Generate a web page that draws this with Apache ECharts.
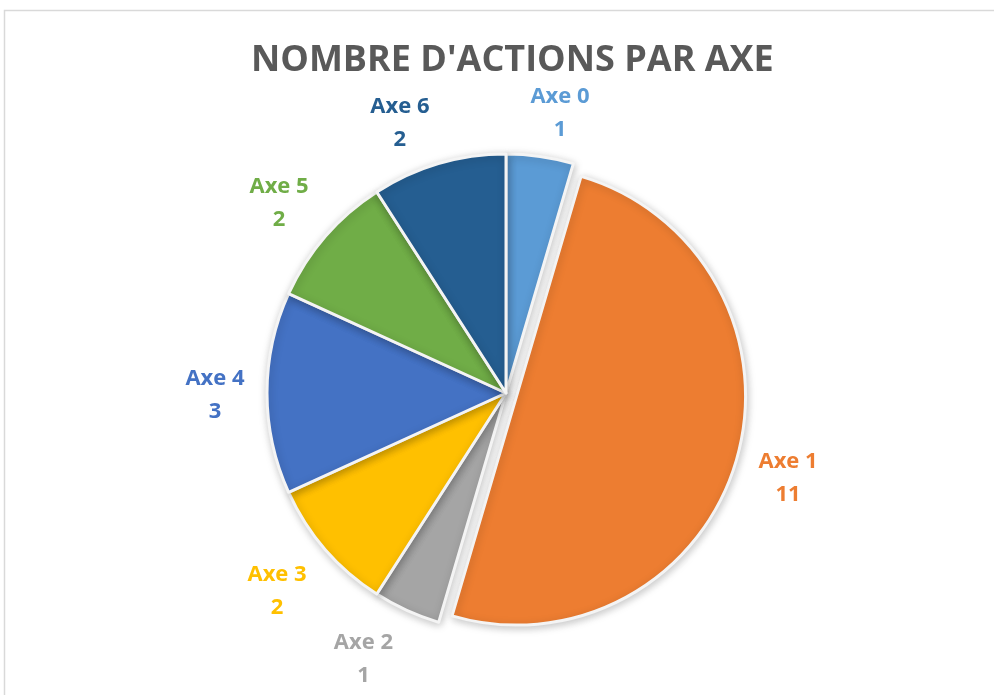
<!DOCTYPE html>
<html>
<head>
<meta charset="utf-8">
<script src="https://cdn.jsdelivr.net/npm/echarts@6/dist/echarts.min.js"></script>
<style>
    html, body { margin: 0; padding: 0; background: #fff; }
    #chart_axes { width: 994px; height: 695px; }
</style>
</head>
<body>
<div id="chart_axes"></div>
<script>
// data
var categories = ['Axe 0', 'Axe 1', 'Axe 2', 'Axe 3', 'Axe 4', 'Axe 5', 'Axe 6'];
var actionCounts = [1, 11, 1, 2, 3, 2, 2];
var sliceColors = ['#5B9BD5', '#ED7D31', '#A5A5A5', '#FFC000', '#4472C4', '#70AD47', '#255E91'];
var explodedCategory = 'Axe 1';

var chartDom = document.getElementById('chart_axes');
var chartInstance = echarts.init(chartDom);

var pieCenter = [506, 393];
var pieRadius = 239;
var explodedRadius = 229;
var explodedOffset = 11;
var labelRadius = 295;
// best-fit nudges (px) so the small slices' labels sit like Excel's
var labelNudge = [[12, 12], [-1, 2], [-20, -2], [-6, 5], [4, 2], [-4, 3], [-23, 13]];

function sliceStyle(i, visible) {
    if (!visible) {
        return { color: 'rgba(0,0,0,0)', borderWidth: 0, shadowBlur: 0, shadowColor: 'rgba(0,0,0,0)' };
    }
    return {
        color: sliceColors[i],
        borderColor: '#f4f4f4',
        borderWidth: 3,
        shadowBlur: 9,
        shadowColor: 'rgba(0,0,0,0.22)',
        shadowOffsetX: 1,
        shadowOffsetY: 2
    };
}

// center of each label, on the bisector of its slice
function labelLayout(params) {
    var total = 0, before = 0;
    for (var i = 0; i < actionCounts.length; i++) {
        total += actionCounts[i];
        if (i < params.dataIndex) before += actionCounts[i];
    }
    var mid = (before + actionCounts[params.dataIndex] / 2) / total * Math.PI * 2;
    var nudge = labelNudge[params.dataIndex];
    return {
        x: pieCenter[0] + labelRadius * Math.sin(mid) + nudge[0],
        y: pieCenter[1] - labelRadius * Math.cos(mid) + nudge[1],
        align: 'center',
        verticalAlign: 'middle'
    };
}

function getChartOption() {
    var mainData = [], explodedData = [];
    for (var i = 0; i < categories.length; i++) {
        var isExploded = categories[i] === explodedCategory;
        mainData.push({
            name: categories[i],
            value: actionCounts[i],
            itemStyle: sliceStyle(i, !isExploded),
            label: { color: sliceColors[i] }
        });
        explodedData.push({
            name: categories[i],
            value: actionCounts[i],
            selected: isExploded,
            itemStyle: sliceStyle(i, isExploded)
        });
    }

    return {
        animation: false,
        title: {
            text: "NOMBRE D'ACTIONS PAR AXE",
            left: 246,
            top: 38,
            textStyle: {
                fontFamily: 'Open Sans',
                fontSize: 36,
                fontWeight: 'bold',
                color: '#595959'
            }
        },
        graphic: [{
            type: 'rect',
            shape: { x: 4.5, y: 10.5, width: 1200, height: 900 },
            style: { fill: 'none', stroke: '#d9d9d9', lineWidth: 1.5 },
            silent: true
        }],
        series: [{
            type: 'pie',
            center: pieCenter,
            radius: explodedRadius,
            startAngle: 90,
            clockwise: true,
            selectedMode: 'single',
            selectedOffset: explodedOffset,
            data: explodedData,
            label: { show: false },
            labelLine: { show: false },
            emphasis: { disabled: true },
            silent: true
        }, {
            type: 'pie',
            center: pieCenter,
            radius: pieRadius,
            startAngle: 90,
            clockwise: true,
            data: mainData,
            label: {
                show: true,
                position: 'outside',
                formatter: '{b}\n{c}',
                fontFamily: 'Open Sans',
                fontSize: 22,
                fontWeight: 'bold',
                lineHeight: 33
            },
            labelLine: { show: false },
            labelLayout: labelLayout,
            emphasis: { disabled: true }
        }]
    };
}

chartInstance.setOption(getChartOption());
</script>
</body>
</html>
